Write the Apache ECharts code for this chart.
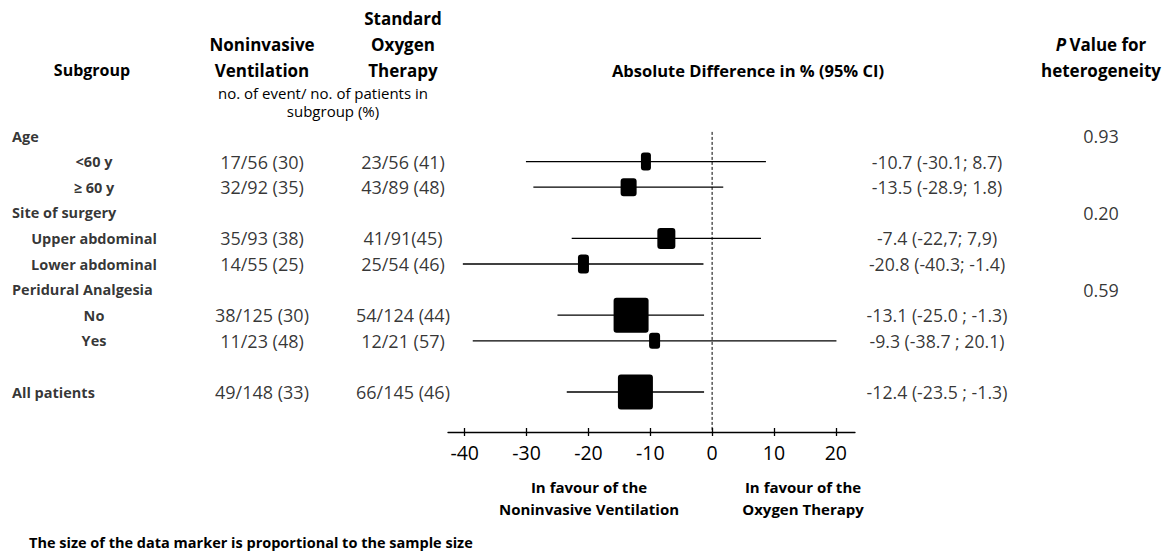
<!DOCTYPE html>
<html>
<head>
<meta charset="utf-8">
<script src="https://cdn.jsdelivr.net/npm/echarts@6/dist/echarts.min.js"></script>
<style>
html,body{margin:0;padding:0;background:#fff;}
#chart{width:1174px;height:554px;}
</style>
</head>
<body>
<div id="chart"></div>
<script>
// ---------------- DATA ----------------
const rowLabels = ['Age', '<60 y', '\u2265 60 y', 'Site of surgery', 'Upper abdominal', 'Lower abdominal', 'Peridural Analgesia', 'No', 'Yes', '', 'All patients'];
const rowIsGroup = [true, false, false, true, false, false, true, false, false, false, true];
const nivText = ['', '17/56 (30)', '32/92 (35)', '', '35/93 (38)', '14/55 (25)', '', '38/125 (30)', '11/23 (48)', '', '49/148 (33)'];
const sotText = ['', '23/56 (41)', '43/89 (48)', '', '41/91(45)', '25/54 (46)', '', '54/124 (44)', '12/21 (57)', '', '66/145 (46)'];
const estimate = [null, -10.7, -13.5, null, -7.4, -20.8, null, -13.1, -9.3, null, -12.4];
const ciLow = [null, -30.1, -28.9, null, -22.7, -40.3, null, -25.0, -38.7, null, -23.5];
const ciHigh = [null, 8.7, 1.8, null, 7.9, -1.4, null, -1.3, 20.1, null, -1.3];
const ciText = ['', '-10.7 (-30.1; 8.7)', '-13.5 (-28.9; 1.8)', '', '-7.4 (-22,7; 7,9)', '-20.8 (-40.3; -1.4)', '', '-13.1 (-25.0 ; -1.3)', '-9.3 (-38.7 ; 20.1)', '', '-12.4 (-23.5 ; -1.3)'];
const pValues = ['0.93', '', '', '0.20', '', '', '0.59', '', '', '', ''];
const xTicks = [-40, -30, -20, -10, 0, 10, 20];

// ---------------- STYLE ----------------
const FONT = '"Open Sans", sans-serif';
// marker box [width, height] per row (visual size, as drawn)
const markerBox = [null, [10, 18], [16, 18], null, [18, 21], [11, 19], null, [35, 35], [11, 16], null, [35, 35]];
const yMin = -1, yMax = 11.5625;
const gridTop = 110.4, gridBottom = 122;

const chart = echarts.init(document.getElementById('chart'), null, {renderer: 'svg'});

function textSeries(name, texts, x, align, bold, size) {
  const data = [];
  texts.forEach((t, i) => { if (t !== '') data.push({value: [x, i], label: {formatter: t}}); });
  return {
    name: name, type: 'scatter', xAxisIndex: 0, yAxisIndex: 0,
    symbolSize: 1, itemStyle: {color: 'rgba(0,0,0,0)'}, silent: true,
    label: {show: true, position: 'inside', align: align, verticalAlign: 'middle', color: '#000',
      fontFamily: FONT, fontSize: size, fontWeight: bold ? 'bold' : 'normal'},
    data: data
  };
}

const subLabels = rowLabels.map((t, i) => rowIsGroup[i] ? '' : t);
const groupLabels = rowLabels.map((t, i) => rowIsGroup[i] ? t : '');

const forestData = [];
estimate.forEach((e, i) => { if (e !== null) forestData.push([e, i, ciLow[i], ciHigh[i], i]); });

function hdr(text, x, y, size, weight) {
  return {type: 'text', x: x, y: y, style: {text: text, font: (weight || 'bold') + ' ' + size + 'px ' + FONT, fill: '#000', align: 'center', verticalAlign: 'middle'}};
}

const option = {
  animation: false,
  backgroundColor: '#fff',
  grid: [
    {left: 0, right: 0, top: gridTop, bottom: gridBottom},
    {left: 448, right: 319, top: gridTop, bottom: gridBottom}
  ],
  xAxis: [
    {gridIndex: 0, type: 'value', min: 0, max: 1174, show: false},
    {gridIndex: 1, type: 'value', min: -42.7, max: 23.1, position: 'bottom',
      axisLine: {show: true, onZero: false, lineStyle: {color: '#000', width: 1.3}},
      axisTick: {show: true, inside: false, length: 4, customValues: xTicks, lineStyle: {color: '#000', width: 1.3}},
      axisLabel: {show: true, customValues: xTicks, margin: 10, color: '#000', fontFamily: FONT, fontSize: 19.5},
      splitLine: {show: false}},
    {gridIndex: 1, type: 'value', min: -42.7, max: 23.1, position: 'bottom',
      axisLine: {show: false, onZero: false},
      axisTick: {show: true, inside: true, length: 4, customValues: xTicks, lineStyle: {color: '#000', width: 1.3}},
      axisLabel: {show: false},
      splitLine: {show: false}}
  ],
  yAxis: [
    {gridIndex: 0, type: 'value', inverse: true, min: yMin, max: yMax, show: false},
    {gridIndex: 1, type: 'value', inverse: true, min: yMin, max: yMax, show: false}
  ],
  series: [
    textSeries('group', groupLabels, 12, 'left', true, 14.5),
    textSeries('sub', subLabels, 94, 'center', true, 14.5),
    textSeries('niv', nivText, 262, 'center', false, 18),
    textSeries('sot', sotText, 403, 'center', false, 18),
    textSeries('ci', ciText, 937, 'center', false, 17.7),
    textSeries('p', pValues, 1101, 'center', false, 18),
    {
      name: 'zero', type: 'line', xAxisIndex: 1, yAxisIndex: 1, symbol: 'none', silent: true,
      lineStyle: {color: '#000', width: 1, type: [3, 2]},
      data: [[0, -0.16], [0, yMax]], z: 1
    },
    {
      name: 'forest', type: 'custom', xAxisIndex: 1, yAxisIndex: 1, silent: true, z: 3,
      clip: false,
      renderItem: function (params, api) {
        const row = api.value(1);
        const c = api.coord([api.value(0), row]);
        const a = api.coord([api.value(2), row]);
        const b = api.coord([api.value(3), row]);
        const box = markerBox[api.value(4)];
        return {
          type: 'group',
          children: [
            {type: 'line', shape: {x1: a[0], y1: a[1], x2: b[0], y2: b[1]}, style: {stroke: '#000', lineWidth: 1.3}},
            {type: 'rect', shape: {x: c[0] - box[0] / 2, y: c[1] - box[1] / 2, width: box[0], height: box[1], r: 3}, style: {fill: '#000'}}
          ]
        };
      },
      data: forestData
    }
  ],
  graphic: [
    hdr('Subgroup', 92, 70, 16),
    hdr('Noninvasive', 262, 44, 17),
    hdr('Ventilation', 262, 70, 17),
    hdr('Standard', 403, 18, 17),
    hdr('Oxygen', 403, 44, 17),
    hdr('Therapy', 403, 70, 17),
    hdr('no. of event/ no. of patients in', 323, 93, 15, 'normal'),
    hdr('subgroup (%)', 333, 111, 15, 'normal'),
    hdr('Absolute Difference in % (95% CI)', 748, 70, 16.5),
    {type: 'text', x: 1101, y: 44, style: {rich: {i: {fontStyle: 'italic', fontWeight: 'bold', fontSize: 17, fontFamily: FONT}, b: {fontWeight: 'bold', fontSize: 17, fontFamily: FONT}}, text: '{i|P} {b|Value for}', fill: '#000', align: 'center', verticalAlign: 'middle'}},
    hdr('heterogeneity', 1101, 70, 17),
    hdr('In favour of the', 589, 487, 15),
    hdr('Noninvasive Ventilation', 589, 509, 15),
    hdr('In favour of the', 803, 487, 15),
    hdr('Oxygen Therapy', 803, 509, 15),
    {type: 'text', x: 29, y: 542, style: {text: 'The size of the data marker is proportional to the sample size', font: 'bold 14.5px ' + FONT, fill: '#000', align: 'left', verticalAlign: 'middle'}}
  ]
};
chart.setOption(option);
</script>
</body>
</html>
